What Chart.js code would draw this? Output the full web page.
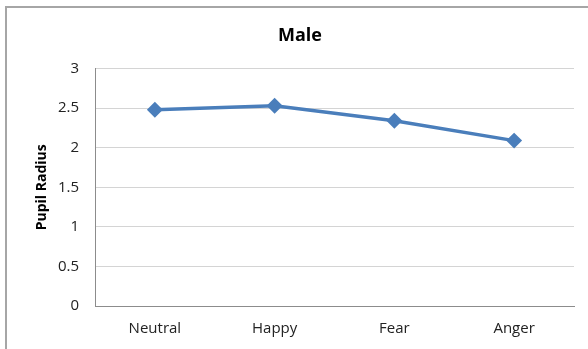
<!DOCTYPE html>
<html>
<head>
<meta charset="utf-8">
<script src="https://cdn.jsdelivr.net/npm/chart.js@4/dist/chart.umd.min.js"></script>
<style>
    html, body { margin: 0; padding: 0; background: #fff; }
    #wrap { position: relative; width: 588px; height: 349px; overflow: hidden; }
    #frame {
        position: absolute; left: 5px; top: 6px; width: 640px; height: 400px;
        border-left: 2px solid #a6a6a6; border-top: 2px solid #a6a6a6;
    }
    #chart { position: absolute; left: 0; top: 0; }
</style>
</head>
<body>
<div id="wrap">
    <div id="frame"></div>
    <canvas id="chart" width="588" height="349"></canvas>
</div>
<script>
// ================= DATA =================
const emotions = ["Neutral", "Happy", "Fear", "Anger"];
const pupilRadius = [2.48, 2.53, 2.34, 2.09];
const yTicks = [0, 0.5, 1, 1.5, 2, 2.5, 3];

const FONT = "'Open Sans', 'Liberation Sans', sans-serif";
const lineBlue = "#4a7ebb";

const ctx = document.getElementById("chart").getContext("2d");

new Chart(ctx, {
    type: "line",
    data: {
        labels: emotions,
        datasets: [{
            label: "Male",
            data: pupilRadius,
            borderColor: lineBlue,
            backgroundColor: lineBlue,
            borderWidth: 3.5,
            pointStyle: "rectRot",
            pointRadius: 5.5,
            pointHoverRadius: 5.5,
            tension: 0,
            fill: false
        }]
    },
    options: {
        responsive: false,
        animation: false,
        layout: { padding: { left: 26, right: 14, top: 8, bottom: 0 } },
        plugins: {
            legend: { display: false },
            tooltip: { enabled: false },
            title: {
                display: true,
                text: "Male",
                color: "#000",
                font: { family: FONT, size: 18, weight: "bold" },
                padding: { top: 17, bottom: 22 }
            }
        },
        scales: {
            x: {
                offset: true,
                grid: { display: false, drawTicks: false },
                border: { display: true, color: "#8c8c8c", width: 1 },
                ticks: {
                    color: "#222",
                    font: { family: FONT, size: 15 },
                    padding: 14,
                    maxRotation: 0
                },
                afterFit: scale => { scale.height = 43; }
            },
            y: {
                min: 0,
                max: 3,
                afterBuildTicks: scale => {
                    scale.ticks = yTicks.map(v => ({ value: v }));
                },
                grid: { color: "#d4d4d4", lineWidth: 1, drawTicks: false },
                border: { display: true, color: "#8c8c8c", width: 1 },
                ticks: {
                    color: "#222",
                    font: { family: FONT, size: 15 },
                    padding: 16,
                    callback: v => String(v)
                },
                title: {
                    display: true,
                    text: "Pupil Radius",
                    color: "#000",
                    font: { family: FONT, size: 14, weight: "bold" },
                    padding: { top: 8, bottom: 0 }
                },
                afterFit: scale => { scale.width = 69; }
            }
        }
    }
});
</script>
</body>
</html>
